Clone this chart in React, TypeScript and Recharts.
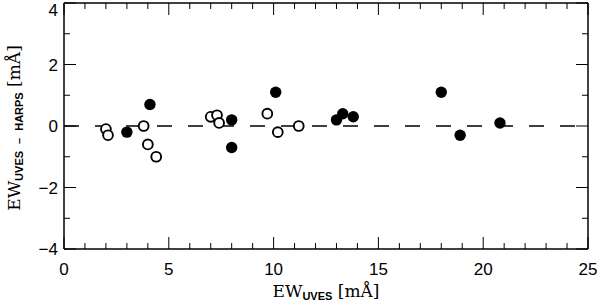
import { ScatterChart, Scatter, XAxis, YAxis, ReferenceLine } from "recharts";

// open circles
const openX = [2.0, 2.1, 3.8, 4.0, 4.4, 7.0, 7.3, 7.4, 9.7, 10.2, 11.2];
const openY = [-0.1, -0.3, 0.0, -0.6, -1.0, 0.3, 0.35, 0.1, 0.4, -0.2, 0.0];

// filled circles
const filledX = [3.0, 4.1, 8.0, 8.0, 10.1, 13.0, 13.3, 13.8, 18.0, 18.9, 20.8];
const filledY = [-0.2, 0.7, 0.2, -0.7, 1.1, 0.2, 0.4, 0.3, 1.1, -0.3, 0.1];

const xTicks = Array.from({ length: 26 }, (_, i) => i);
const yTicks = [-4, -3, -2, -1, 0, 1, 2, 3, 4];

const openData = openX.map((x, i) => ({ x, y: openY[i] }));
const filledData = filledX.map((x, i) => ({ x, y: filledY[i] }));

const W = 600;
const H = 303;
// axes take 1px each, plot box is 64..588 x 3..249
const M = { top: 2, right: 11, bottom: 53, left: 63 };

const tickFont = { fontFamily: "'Liberation Sans', Arial, sans-serif", fontSize: 17 };

const BottomTick = ({ x, y, payload }: any) => {
  const major = payload.value % 5 === 0;
  return (
    <g>
      <line x1={x} x2={x} y1={y} y2={y - (major ? 12 : 6)} stroke="#000" strokeWidth={1} />
      {major && (
        <text x={x} y={y + 26} textAnchor="middle" fill="#000" {...tickFont}>
          {payload.value}
        </text>
      )}
    </g>
  );
};

const TopTick = ({ x, y, payload }: any) => {
  const major = payload.value % 5 === 0;
  return <line x1={x} x2={x} y1={y} y2={y + (major ? 12 : 6)} stroke="#000" strokeWidth={1} />;
};

const LeftTick = ({ x, y, payload }: any) => {
  const major = payload.value % 2 === 0;
  const label = payload.value < 0 ? `\u2212${Math.abs(payload.value)}` : `${payload.value}`;
  // top label would be cut by the page edge, keep it inside
  const ty = Math.max(y + 6, 16);
  return (
    <g>
      <line x1={x} x2={x + (major ? 12 : 6)} y1={y} y2={y} stroke="#000" strokeWidth={1} />
      {major && (
        <text x={x - 6} y={ty} textAnchor="end" fill="#000" {...tickFont}>
          {label}
        </text>
      )}
    </g>
  );
};

const RightTick = ({ x, y, payload }: any) => {
  const major = payload.value % 2 === 0;
  return <line x1={x} x2={x - (major ? 12 : 6)} y1={y} y2={y} stroke="#000" strokeWidth={1} />;
};

const OpenDot = ({ cx, cy }: any) => (
  <circle cx={cx} cy={cy} r={4.9} fill="#fff" stroke="#000" strokeWidth={1.9} />
);

const FilledDot = ({ cx, cy }: any) => <circle cx={cx} cy={cy} r={5.7} fill="#000" />;

const serif = "'DejaVu Serif', 'Liberation Serif', serif";
const sans = "'Liberation Sans', Arial, sans-serif";

const axisLine = { stroke: "#000", strokeWidth: 1.5 };

export default function App() {
  return (
    <div style={{ position: "absolute", left: 0, top: 0, width: W, height: H, background: "#fff" }}>
      <ScatterChart width={W} height={H} margin={M}>
        <XAxis
          xAxisId="b"
          type="number"
          dataKey="x"
          domain={[0, 25]}
          ticks={xTicks}
          interval={0}
          height={1}
          tickSize={0}
          tickMargin={0}
          tick={<BottomTick />}
          axisLine={axisLine}
          allowDataOverflow
        />
        <XAxis
          xAxisId="t"
          orientation="top"
          type="number"
          dataKey="x"
          domain={[0, 25]}
          ticks={xTicks}
          interval={0}
          height={1}
          tickSize={0}
          tickMargin={0}
          tick={<TopTick />}
          axisLine={axisLine}
          allowDataOverflow
        />
        <YAxis
          yAxisId="l"
          type="number"
          dataKey="y"
          domain={[-4, 4]}
          ticks={yTicks}
          interval={0}
          width={1}
          tickSize={0}
          tickMargin={0}
          tick={<LeftTick />}
          axisLine={axisLine}
          allowDataOverflow
        />
        <YAxis
          yAxisId="r"
          orientation="right"
          type="number"
          dataKey="y"
          domain={[-4, 4]}
          ticks={yTicks}
          interval={0}
          width={1}
          tickSize={0}
          tickMargin={0}
          tick={<RightTick />}
          axisLine={axisLine}
          allowDataOverflow
        />
        <ReferenceLine
          xAxisId="b"
          yAxisId="l"
          y={0}
          stroke="#000"
          strokeWidth={1.3}
          strokeDasharray="15 16"
        />
        <Scatter
          xAxisId="b"
          yAxisId="l"
          data={openData}
          shape={<OpenDot />}
          isAnimationActive={false}
        />
        <Scatter
          xAxisId="b"
          yAxisId="l"
          data={filledData}
          shape={<FilledDot />}
          isAnimationActive={false}
        />
      </ScatterChart>
      <svg
        width={W}
        height={H}
        style={{ position: "absolute", left: 0, top: 0, pointerEvents: "none" }}
      >
        <text x={326} y={297} textAnchor="middle" fill="#000">
          <tspan fontFamily={serif} fontSize={17}>EW</tspan>
          <tspan fontFamily={sans} fontWeight="bold" fontSize={11} dy={3}>UVES</tspan>
          <tspan fontFamily={serif} fontSize={17} dy={-3}> [mÅ]</tspan>
        </text>
        <text transform="translate(20,128) rotate(-90)" textAnchor="middle" fill="#000">
          <tspan fontFamily={serif} fontSize={17}>EW</tspan>
          <tspan fontFamily={sans} fontWeight="bold" fontSize={11} dy={3}>UVES</tspan>
          <tspan fontFamily={sans} fontWeight="bold" fontSize={11} dx={7}>–</tspan>
          <tspan fontFamily={sans} fontWeight="bold" fontSize={11} dx={7}>HARPS</tspan>
          <tspan fontFamily={serif} fontSize={17} dy={-3}> [mÅ]</tspan>
        </text>
      </svg>
    </div>
  );
}
